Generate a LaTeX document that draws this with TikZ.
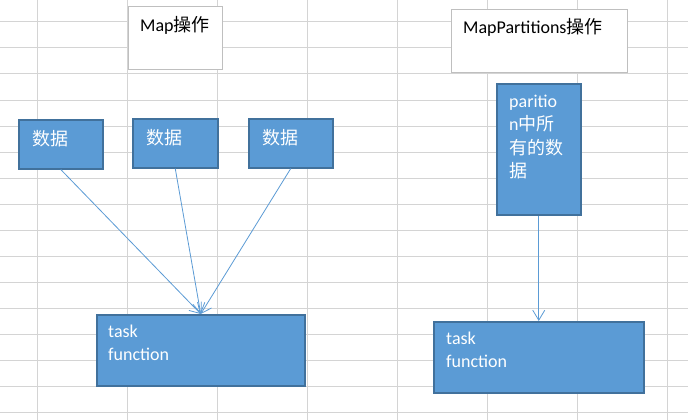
\documentclass[tikz,border=0pt]{standalone}
\usepackage{fontspec}
\setmainfont{Carlito}
\newfontfamily\cjk{Noto Sans CJK SC}
\usetikzlibrary{arrows.meta}
\definecolor{cellline}{HTML}{D4D4D4}
\definecolor{boxfill}{HTML}{5B9BD5}
\definecolor{boxedge}{HTML}{41719C}
\definecolor{titleedge}{HTML}{BFBFBF}
\begin{document}
\begin{tikzpicture}
[x=1pt,y=-1pt,
  gridline/.style={cellline,line width=1pt},
  titlebox/.style={shape=rectangle,draw=titleedge,fill=white,line width=1pt,anchor=north west,inner sep=0pt},
  databox/.style={shape=rectangle,draw=boxedge,fill=boxfill,line width=1.5pt,anchor=north west,inner sep=0pt},
  boxtext/.style={anchor=base west,inner sep=0pt,align=left,xshift=13pt,yshift=-24pt,font=\fontsize{18}{23.5}\selectfont},
  linedecorate/.style={-{Straight Barb[length=10pt,width=12pt]},boxfill,line width=0.8pt}]
\useasboundingbox (0,0) rectangle (688,420);
%%% sheet grid
\fill[white] (0,0) rectangle (688,420);
\foreach \x in {37,127,217,307,397,487,577,667}
  \draw[gridline] (\x,0) -- (\x,420);
\foreach \y in {22,48,...,412}
  \draw[gridline] (0,\y) -- (688,\y);
%
%%% Map
% titles
\node (maptitle) at (128,6) [titlebox,minimum width=94pt,minimum height=63pt,
  label={[boxtext,xshift=-1pt,yshift=-2pt]north west:Map{\cjk 操作}}] {};
% data boxes
\node (data1) at (18,119) [databox,minimum width=84pt,minimum height=49pt,
  label={[boxtext,white,xshift=1pt,yshift=-2pt]north west:{\cjk 数据}}] {};
\node (data2) at (132,118) [databox,minimum width=85pt,minimum height=49pt,
  label={[boxtext,white,xshift=1pt,yshift=-2pt]north west:{\cjk 数据}}] {};
\node (data3) at (248,118) [databox,minimum width=84pt,minimum height=49pt,
  label={[boxtext,white,xshift=1pt,yshift=-2pt]north west:{\cjk 数据}}] {};
\node (task1) at (96,314) [databox,minimum width=208pt,minimum height=71pt,
  label={[boxtext,white,xshift=-1pt,yshift=-22.5pt]north west:task\\function}] {};
% edges
\path
(data1.south) edge[linedecorate] (task1.north)
(data2.south) edge[linedecorate] (task1.north)
(data3.south) edge[linedecorate] (task1.north);
%
%%% MapPartitions
\node (parttitle) at (451,9) [titlebox,minimum width=176pt,minimum height=63pt,
  label={[boxtext,xshift=-1pt,yshift=-1pt]north west:MapPartitions{\cjk 操作}}] {};
\node (part) at (496,83) [databox,minimum width=84pt,minimum height=131pt,
  label={[boxtext,white,yshift=-70.5pt]north west:paritio\\n{\cjk 中所}\\{\cjk 有的数}\\{\cjk 据}}] {};
\node (task2) at (433,321) [databox,minimum width=210pt,minimum height=71pt,
  label={[boxtext,white,yshift=-22.5pt]north west:task\\function}] {};
\path
(part.south) edge[linedecorate] (task2.north);
\end{tikzpicture}
\end{document}
